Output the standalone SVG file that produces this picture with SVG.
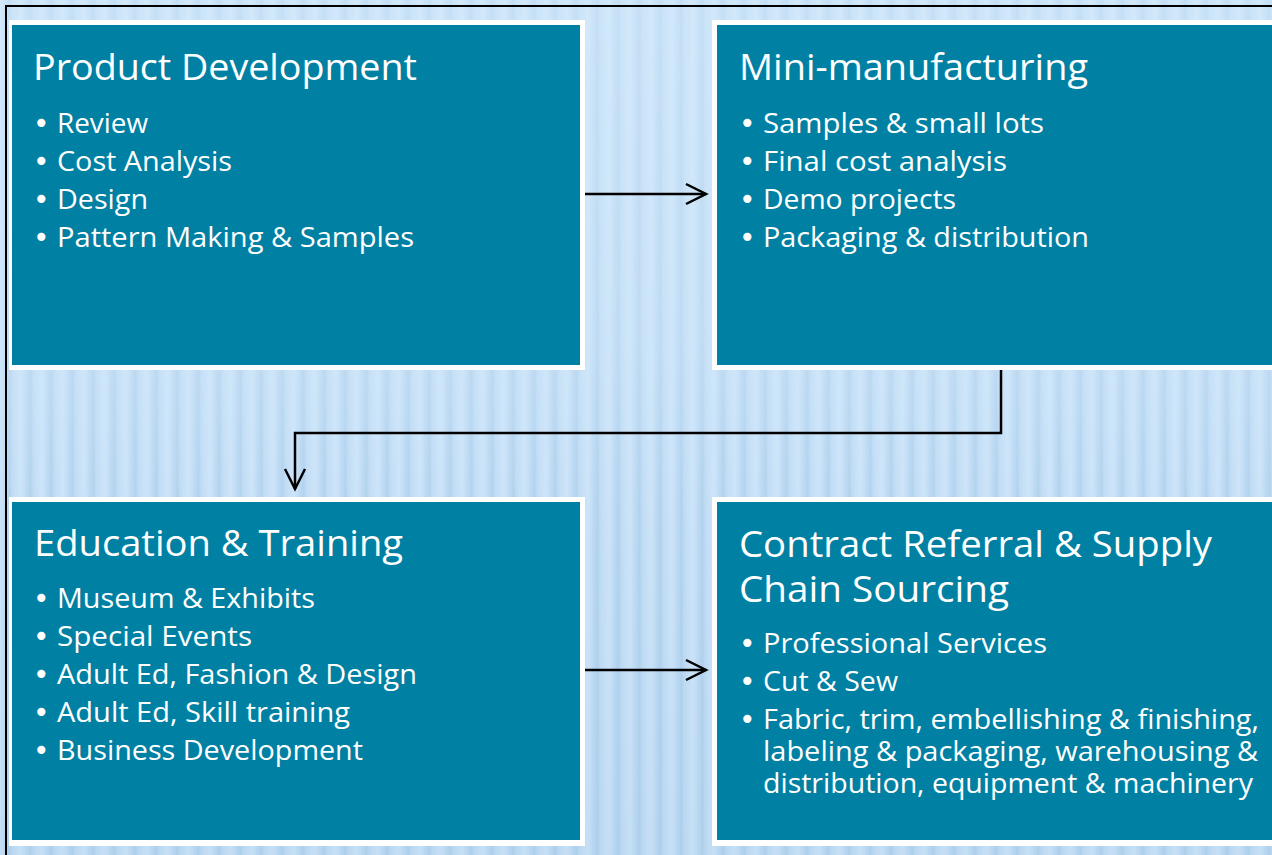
<svg xmlns="http://www.w3.org/2000/svg" width="1272" height="855" viewBox="0 0 1272 855">
  <defs>
    <linearGradient id="bg" x1="0" y1="0" x2="0" y2="1">
      <stop offset="0" stop-color="#d3e9fb"/>
      <stop offset="0.5" stop-color="#cfe6fa"/>
      <stop offset="1" stop-color="#c6e0f6"/>
    </linearGradient>
    <linearGradient id="stripeG" x1="0" y1="0" x2="1" y2="0">
      <stop offset="0" stop-color="#8fbbe0" stop-opacity="0"/>
      <stop offset="0.45" stop-color="#8fbbe0" stop-opacity="0.45"/>
      <stop offset="0.6" stop-color="#8fbbe0" stop-opacity="0.2"/>
      <stop offset="1" stop-color="#8fbbe0" stop-opacity="0"/>
    </linearGradient>
    <pattern id="stripes" x="0" y="0" width="21" height="855" patternUnits="userSpaceOnUse">
      <rect x="0" y="0" width="21" height="855" fill="url(#stripeG)"/>
    </pattern>
    <linearGradient id="fadeMask" x1="0" y1="0" x2="0" y2="1">
      <stop offset="0" stop-color="#fff" stop-opacity="0.5"/>
      <stop offset="0.4" stop-color="#fff" stop-opacity="0.6"/>
      <stop offset="0.6" stop-color="#fff" stop-opacity="1"/>
      <stop offset="1" stop-color="#fff" stop-opacity="1"/>
    </linearGradient>
    <mask id="m">
      <rect x="0" y="0" width="1272" height="855" fill="url(#fadeMask)"/>
    </mask>
    <marker id="arrow" markerUnits="userSpaceOnUse" markerWidth="26" markerHeight="26" refX="21" refY="11" orient="auto" overflow="visible">
      <path d="M1,1 L21,11 L1,21" fill="none" stroke="#000" stroke-width="2.5"/>
    </marker>
  </defs>
  <style>
    .frame { fill: #ffffff; }
    .box { fill: #0081a3; }
    .title { font-family: "Open Sans", "Noto Sans", "Liberation Sans", sans-serif; font-size: 36px; fill: #ffffff; }
    .item { font-family: "Open Sans", "Noto Sans", "Liberation Sans", sans-serif; font-size: 28px; fill: #ffffff; }
    .bul { font-family: "DejaVu Sans", sans-serif; font-size: 28px; }
    .conn { fill: none; stroke: #000; stroke-width: 2.5; }
    .border { fill: none; stroke: #000; stroke-width: 2; }
  </style>

  <rect x="0" y="0" width="1272" height="855" fill="url(#bg)"/>
  <rect x="0" y="0" width="1272" height="855" fill="url(#stripes)" mask="url(#m)"/>
  <path class="border" d="M6,855 V6 H1272"/>

  <g id="node-product-development">
    <rect class="frame" x="9" y="20" width="576" height="350"/>
    <rect class="box" x="12" y="25" width="568" height="340"/>
    <text class="title" x="33" y="80" textLength="384" lengthAdjust="spacingAndGlyphs">Product Development</text>
    <text class="item"><tspan class="bul" x="33" y="133">•</tspan><tspan x="57" y="133" textLength="91" lengthAdjust="spacingAndGlyphs">Review</tspan></text>
    <text class="item"><tspan class="bul" x="33" y="171">•</tspan><tspan x="57" y="171" textLength="175" lengthAdjust="spacingAndGlyphs">Cost Analysis</tspan></text>
    <text class="item"><tspan class="bul" x="33" y="209">•</tspan><tspan x="57" y="209" textLength="91" lengthAdjust="spacingAndGlyphs">Design</tspan></text>
    <text class="item"><tspan class="bul" x="33" y="247">•</tspan><tspan x="57" y="247" textLength="357" lengthAdjust="spacingAndGlyphs">Pattern Making &amp; Samples</tspan></text>
  </g>

  <g id="node-mini-manufacturing">
    <rect class="frame" x="712" y="20" width="570" height="350"/>
    <rect class="box" x="717" y="25" width="560" height="340"/>
    <text class="title" x="739" y="80" textLength="349" lengthAdjust="spacingAndGlyphs">Mini-manufacturing</text>
    <text class="item"><tspan class="bul" x="739" y="133">•</tspan><tspan x="763" y="133" textLength="281" lengthAdjust="spacingAndGlyphs">Samples &amp; small lots</tspan></text>
    <text class="item"><tspan class="bul" x="739" y="171">•</tspan><tspan x="763" y="171" textLength="244" lengthAdjust="spacingAndGlyphs">Final cost analysis</tspan></text>
    <text class="item"><tspan class="bul" x="739" y="209">•</tspan><tspan x="763" y="209" textLength="193" lengthAdjust="spacingAndGlyphs">Demo projects</tspan></text>
    <text class="item"><tspan class="bul" x="739" y="247">•</tspan><tspan x="763" y="247" textLength="326" lengthAdjust="spacingAndGlyphs">Packaging &amp; distribution</tspan></text>
  </g>

  <g id="node-education-training">
    <rect class="frame" x="9" y="497" width="576" height="349"/>
    <rect class="box" x="12" y="502" width="568" height="338"/>
    <text class="title" x="34" y="556" textLength="369" lengthAdjust="spacingAndGlyphs">Education &amp; Training</text>
    <text class="item"><tspan class="bul" x="33" y="608">•</tspan><tspan x="57" y="608" textLength="258" lengthAdjust="spacingAndGlyphs">Museum &amp; Exhibits</tspan></text>
    <text class="item"><tspan class="bul" x="33" y="646">•</tspan><tspan x="57" y="646" textLength="195" lengthAdjust="spacingAndGlyphs">Special Events</tspan></text>
    <text class="item"><tspan class="bul" x="33" y="684">•</tspan><tspan x="57" y="684" textLength="360" lengthAdjust="spacingAndGlyphs">Adult Ed, Fashion &amp; Design</tspan></text>
    <text class="item"><tspan class="bul" x="33" y="722">•</tspan><tspan x="57" y="722" textLength="293" lengthAdjust="spacingAndGlyphs">Adult Ed, Skill training</tspan></text>
    <text class="item"><tspan class="bul" x="33" y="760">•</tspan><tspan x="57" y="760" textLength="306" lengthAdjust="spacingAndGlyphs">Business Development</tspan></text>
  </g>

  <g id="node-contract-referral">
    <rect class="frame" x="712" y="497" width="570" height="349"/>
    <rect class="box" x="717" y="502" width="560" height="338"/>
    <text class="title"><tspan x="739" y="557" textLength="473" lengthAdjust="spacingAndGlyphs">Contract Referral &amp; Supply</tspan><tspan x="739" y="602" textLength="270" lengthAdjust="spacingAndGlyphs">Chain Sourcing</tspan></text>
    <text class="item"><tspan class="bul" x="739" y="653">•</tspan><tspan x="763" y="653" textLength="284" lengthAdjust="spacingAndGlyphs">Professional Services</tspan></text>
    <text class="item"><tspan class="bul" x="739" y="691">•</tspan><tspan x="763" y="691" textLength="135" lengthAdjust="spacingAndGlyphs">Cut &amp; Sew</tspan></text>
    <text class="item"><tspan class="bul" x="739" y="729">•</tspan><tspan x="763" y="729" textLength="496" lengthAdjust="spacingAndGlyphs">Fabric, trim, embellishing &amp; finishing,</tspan><tspan x="763" y="761" textLength="495" lengthAdjust="spacingAndGlyphs">labeling &amp; packaging, warehousing &amp;</tspan><tspan x="763" y="793" textLength="490" lengthAdjust="spacingAndGlyphs">distribution, equipment &amp; machinery</tspan></text>
  </g>

  <g id="connectors">
    <path class="conn" d="M585,194 H706" marker-end="url(#arrow)"/>
    <path class="conn" d="M1001,370 V433 H295 V489" marker-end="url(#arrow)"/>
    <path class="conn" d="M585,670 H706" marker-end="url(#arrow)"/>
  </g>
</svg>
